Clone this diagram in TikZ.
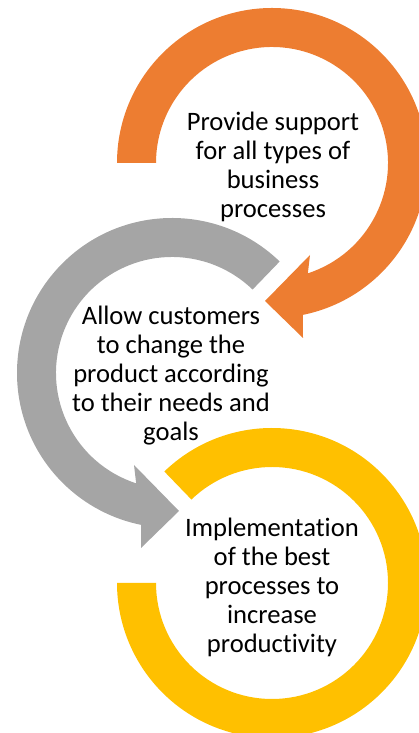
\documentclass[tikz,border=0pt]{standalone}
\usepackage{fontspec}
\setmainfont{Carlito}[Ligatures=NoCommon]
\usepackage{tikz}
\usepackage{xcolor}
\usetikzlibrary{calc}
\definecolor{myOrange}{HTML}{ED7D31}
\definecolor{myGray}{HTML}{A5A5A5}
\definecolor{myYellow}{HTML}{FFC000}

\begin{document}
\begin{tikzpicture}[
  x=1pt, y=1pt,
  ring/.style={draw=none},
  ringtext/.style={align=center, inner sep=0pt, text=black,
                   font=\fontsize{26.6}{29}\selectfont},
]
  \useasboundingbox (0,0) rectangle (419,733);
  \clip (0,0) rectangle (419,733);

  \coordinate (oc) at (272,570);
  \coordinate (gc) at (172,360);
  \coordinate (yc) at (272,150);

  % orange ring, clockwise from the left, head pointing down-left
  \fill[ring, myOrange, shift={(oc)}]
    (180:155pt) arc[start angle=180, end angle=-78.5, radius=155pt]
    -- (31,-175) -- (-7,-138) -- (38,-92)
    -- (-72:116pt) arc[start angle=-72, end angle=180, radius=116pt] -- cycle;

  % gray ring, mirrored, head pointing down-right
  \fill[ring, myGray, shift={(gc)}]
    (46:155pt) arc[start angle=46, end angle=258.5, radius=155pt]
    -- (-31,-175) -- (7,-138) -- (-38,-92)
    -- (252:116pt) arc[start angle=252, end angle=46, radius=116pt] -- cycle;

  % yellow ring, no head
  \fill[ring, myYellow, shift={(yc)}]
    (134:155pt) arc[start angle=134, end angle=-180, radius=155pt]
    -- (180:116pt) arc[start angle=-180, end angle=134, radius=116pt] -- cycle;

  \node[ringtext] (t1) at ($(oc)+(1,-4)$) {Provide support\\for all types of\\business\\processes};
  \node[ringtext] (t2) at ($(gc)+(-1,-3)$) {Allow customers\\to change the\\product according\\to their needs and\\goals};
  \node[ringtext] (t3) at ($(yc)+(0,-4)$) {Implementation\\of the best\\processes to\\increase\\productivity};
\end{tikzpicture}
\end{document}
